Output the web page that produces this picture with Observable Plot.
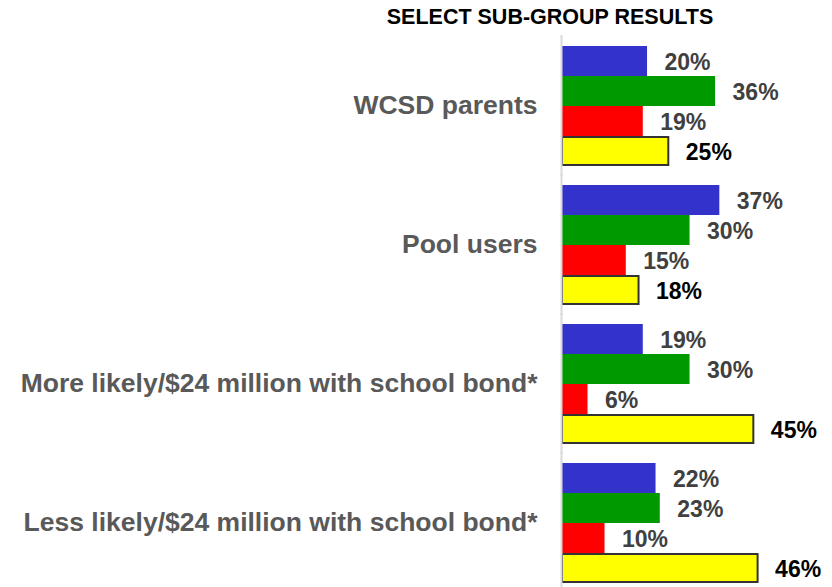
<!DOCTYPE html>
<html>
<head>
<meta charset="utf-8">
<script src="https://cdn.jsdelivr.net/npm/d3@7"></script>
<script src="https://cdn.jsdelivr.net/npm/@observablehq/plot@0.6"></script>
<style>
  html, body { margin: 0; padding: 0; background: #fff; }
  body { width: 832px; height: 587px; overflow: hidden; font-family: "Liberation Sans", Arial, sans-serif; }
  #title { height: 27px; padding-top: 7px; padding-left: 268px; width: 564px; text-align: center;
           font-size: 21.5px; line-height: 21px; font-weight: bold; color: #000; white-space: nowrap; }
  #chart svg { display: block; }
</style>
</head>
<body>
<div id="title">SELECT SUB-GROUP RESULTS</div>
<div id="chart"></div>
<script>
const groups = [
  "WCSD parents",
  "Pool users",
  "More likely/$24 million with school bond*",
  "Less likely/$24 million with school bond*"
];
const seriesNames = ["Blue", "Green", "Red", "Yellow"];
const blueValues = [20, 37, 19, 22];
const greenValues = [36, 30, 30, 23];
const redValues = [19, 15, 6, 10];
const yellowValues = [25, 18, 45, 46];

const seriesColors = ["#3333CC", "#009900", "#FF0000", "#FFFF00"];
const labelColors = ["#404040", "#404040", "#404040", "#000000"];

const valueSets = [blueValues, greenValues, redValues, yellowValues];
const rows = [];
groups.forEach((g, gi) => {
  seriesNames.forEach((s, si) => {
    rows.push({group: g, series: s, value: valueSets[si][gi], color: seriesColors[si], labelColor: labelColors[si]});
  });
});

const font = "Liberation Sans, Arial, sans-serif";

const chart = Plot.plot({
  width: 832,
  height: 553,
  marginTop: 9,
  marginBottom: 2,
  marginLeft: 562,
  marginRight: 0,
  style: {fontFamily: font, background: "#fff"},
  x: {domain: [0, 63.5], axis: null},
  y: {domain: seriesNames, padding: 0, axis: null},
  fy: {domain: groups, paddingInner: 0.118, paddingOuter: 0, axis: null},
  color: {type: "identity"},
  marks: [
    Plot.barX(rows.filter(d => d.series !== "Yellow"), {x: "value", y: "series", fy: "group", fill: "color"}),
    Plot.barX(rows.filter(d => d.series === "Yellow"), {x: "value", y: "series", fy: "group", fill: "color", stroke: "#333333", strokeWidth: 2, insetTop: 1, insetBottom: 1}),
    Plot.ruleX([0], {stroke: "#d9d9d9", strokeWidth: 2, dx: -1, insetTop: -9, insetBottom: -9}),
    Plot.text(rows, {x: "value", y: "series", fy: "group", text: d => d.value + "%", fill: "labelColor",
      textAnchor: "start", dx: 17, dy: 1, fontSize: 23, fontWeight: "bold", fontFamily: font}),
    Plot.text(groups, {fy: d => d, text: d => d, frameAnchor: "left", textAnchor: "end", dx: -25,
      fill: "#595959", fontSize: 26.5, fontWeight: "bold", fontFamily: font})
  ]
});
document.getElementById("chart").appendChild(chart);
</script>
</body>
</html>
